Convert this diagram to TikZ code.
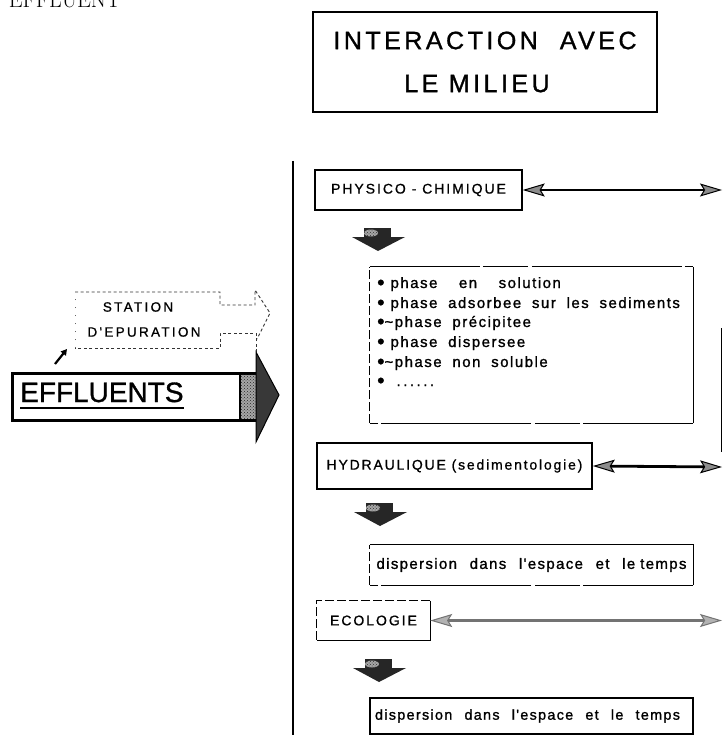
\documentclass[tikz,border=0pt]{standalone}
\usepackage{fontspec}
\usetikzlibrary{arrows.meta,calc,patterns}
\newfontfamily\hvcaps{Liberation Sans}[LetterSpace=14,FakeBold=0.8]
\newfontfamily\hvcapsb{Liberation Sans}[LetterSpace=13,FakeBold=0.8]
\newfontfamily\hvst{Liberation Sans}[LetterSpace=17,FakeBold=0.8]
\newfontfamily\hvlow{Liberation Sans}[LetterSpace=10,WordSpace=1.9,FakeBold=1.2]
\newfontfamily\hvdisp{Liberation Sans}[LetterSpace=9,WordSpace=2.3,FakeBold=1.2]
\newfontfamily\hvtitle{Liberation Sans}[LetterSpace=14,FakeBold=1.2]
\newfontfamily\hveff{Liberation Sans}[FakeBold=1.2]
\newcommand\bdarrow[2]{%
  \fill[black!85] ({#1-14},{#2}) rectangle ({#1+13},{#2+10});
  \fill[black!85] ({#1-26},{#2+9}) -- ({#1+27},{#2+9}) -- ({#1},{#2+23}) -- cycle;
  \fill[black!35] ({#1-7},{#2+5}) ellipse [x radius=7pt, y radius=3.5pt];
  \fill[pattern=crosshatch dots, pattern color=black!80] ({#1-7},{#2+5}) ellipse [x radius=7pt, y radius=3.5pt];
}
\newcommand\bul{\smash{\raisebox{-1.5pt}{\fontsize{21}{21}\selectfont\textbullet}}}
\begin{document}
\begin{tikzpicture}[x=1pt,y=-1pt,
  capbox/.style={font=\hvcaps\fontsize{14}{16}\selectfont, inner sep=0pt, draw=black, line width=1.4pt},
  lowtxt/.style={font=\hvlow\fontsize{15}{17}\selectfont, inner sep=0pt},
  disptxt/.style={font=\hvdisp\fontsize{15}{18}\selectfont, inner sep=0pt},
  brk/.style={line width=1.2pt, dash pattern=on 110pt off 3pt on 45pt off 4pt on 150pt off 3pt},
  dsh/.style={line width=1pt, dash pattern=on 9pt off 3pt},
  stdash/.style={line width=0.9pt, black!80, dash pattern=on 3pt off 2.5pt},
  dblarrow/.style={line width=2.8pt, {Stealth[length=22pt,width=13pt,inset=4pt,fill=black!45,line width=1pt]}-{Stealth[length=22pt,width=13pt,inset=4pt,fill=black!45,line width=1pt]}},
  dblarrowgray/.style={line width=2.8pt, black!55, {Stealth[length=22pt,width=13pt,inset=4pt,fill=black!30,line width=1pt]}-{Stealth[length=22pt,width=13pt,inset=4pt,fill=black!30,line width=1pt]}},
]
\useasboundingbox[fill=white] (0,0) rectangle (723,735);

% clipped heading
\node[anchor=base east, inner sep=0pt, font=\rmfamily\addfontfeature{LetterSpace=15}\fontsize{22}{22}\selectfont] (hdr) at (121,8) {EFFLUENT};

% title
\node[draw, line width=2.6pt, minimum width=344pt, minimum height=100pt, align=center, inner sep=0pt,
      font=\hvtitle\fontsize{25}{43}\selectfont] (title) at (485,62)
      {INTERACTION\hspace{22pt}AVEC\\LE MILIEU\hspace*{16pt}};

% vertical line
\coordinate (vtop) at (293,161);
\coordinate (vbot) at (293,735);
\draw[line width=2pt] (vtop) -- (vbot);

% right edge line
\coordinate (re1) at (721.5,328);
\coordinate (re2) at (721.5,452);
\draw[line width=1.5pt] (re1) -- (re2);

% PHYSICO-CHIMIQUE
\node[capbox, minimum width=207pt, minimum height=40pt] (phys) at (418.5,190) {PHYSICO - CHIMIQUE};
\coordinate (physR) at (722,190);
\draw[dblarrow] (phys.east) -- (physR);
\bdarrow{378}{228}

% phase box
\node[minimum width=323pt, minimum height=156pt, inner sep=0pt] (phbox) at (531.5,345) {};
\draw[brk] (phbox.north west) -- (phbox.north east);
\draw[line width=1.3pt] (phbox.north east) -- (phbox.south east);
\draw[brk] (phbox.south east) -- (phbox.south west);
\draw[dsh] (phbox.south west) -- (phbox.north west);
\node[lowtxt, anchor=base west] (p1) at (377,288) {\bul\hspace{6pt}phase\ \ en\ \ solution};
\node[lowtxt, anchor=base west] (p2) at (377,308) {\bul\hspace{6pt}phase adsorbee sur les sediments};
\node[lowtxt, anchor=base west] (p3) at (377,327) {\bul\string~phase précipitee};
\node[lowtxt, anchor=base west] (p4) at (377,347) {\bul\hspace{6pt}phase dispersee};
\node[lowtxt, anchor=base west] (p5) at (377,367) {\bul\string~phase non soluble};
\node[lowtxt, anchor=base west] (p6) at (377,386) {\bul\hspace{12pt}.\,.\,.\,.\,.\,.};

% HYDRAULIQUE
\node[capbox, font=\hvcapsb\fontsize{14}{16}\selectfont, line width=1.6pt, minimum width=275pt, minimum height=46pt] (hyd) at (454.5,466) {HYDRAULIQUE (sedimentologie)};
\coordinate (hydR) at (722,467);
\draw[dblarrow] (hyd.east) -- (hydR);
\bdarrow{380}{503}

% dispersion 1
\node[disptxt, minimum width=323pt, minimum height=40pt] (disp1) at (531.5,565) {dispersion dans l'espace et le\hspace{5pt}temps};
\draw[line width=1.2pt] (disp1.north west) -- (disp1.north east) -- (disp1.south east);
\draw[brk] (disp1.south east) -- (disp1.south west);
\draw[dsh] (disp1.south west) -- (disp1.north west);

% ECOLOGIE
\node[font=\hvcaps\fontsize{14}{16}\selectfont, inner sep=0pt, minimum width=113pt, minimum height=39pt] (eco) at (373.5,620.5) {ECOLOGIE};
\draw[dsh, line width=0.9pt] (eco.south west) -- (eco.north west) -- (eco.north east);
\draw[line width=1.1pt] (eco.north east) -- (eco.south east) -- (eco.south west);
\coordinate (ecoR) at (722,620.5);
\draw[dblarrowgray] (eco.east) -- (ecoR);
\bdarrow{379}{659}

% dispersion 2
\node[disptxt, font=\hvdisp\fontsize{14.4}{18}\selectfont, draw, line width=1.6pt, minimum width=323pt, minimum height=36pt] (disp2) at (531.5,716) {dispersion dans l'espace et le temps\hspace*{8pt}};

% STATION D'EPURATION dashed arrow
\draw[stdash] (75,292) -- (220,292) -- (220,305) -- (255,305) -- (255,290) -- (270,313) -- (257,339);
\draw[stdash] (256,352) -- (256,333) -- (220,333) -- (220,348) -- (75,348);
\draw[line width=0.9pt, black!60, dash pattern=on 1pt off 7pt] (75,348) -- (75,292);
\node[font=\hvst\fontsize{13.5}{16}\selectfont, inner sep=0pt] (st1) at (138,307) {STATION};
\node[font=\hvst\fontsize{13.5}{16}\selectfont, inner sep=0pt] (st2) at (144,332) {D'EPURATION};

% small arrow
\coordinate (sa1) at (55,364);
\coordinate (sa2) at (67,349);
\draw[line width=2.2pt, -{Triangle[length=6pt,width=6.5pt]}] (sa1) -- (sa2);

% EFFLUENTS arrow
\node[draw, line width=3pt, minimum width=245pt, minimum height=47pt, inner sep=0pt] (effbody) at (134.5,396.5) {};
\fill[black!35] (240,374.5) rectangle (256,418.5);
\fill[pattern=crosshatch dots, pattern color=black!85] (240,374.5) rectangle (256,418.5);
\draw[line width=1.5pt] (240,374) -- (240,419);
\filldraw[fill=black!78, draw=black, line width=1pt] (256,352) -- (279,395) -- (256,442) -- cycle;
\node[anchor=base west, inner sep=0pt, font=\hveff\fontsize{28}{28}\selectfont] (eff) at (20,402) {EFFLUENTS};
\draw[line width=2.5pt] ([yshift=-6pt]eff.base west) -- ([yshift=-6pt]eff.base east);
\end{tikzpicture}
\end{document}
